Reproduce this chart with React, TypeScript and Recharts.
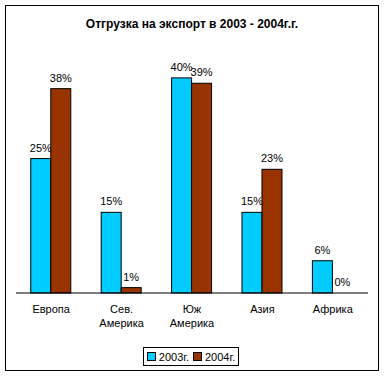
import React from "react";
import { BarChart, Bar, XAxis, YAxis, Legend, Customized } from "recharts";

const categories = ["Европа", "Сев. Америка", "Юж Америка", "Азия", "Африка"];
const values2003 = [25, 15, 40, 15, 6];
const values2004 = [38, 1, 39, 23, 0];
const seriesNames = ["2003г.", "2004г."];
const colors = ["#00CCFF", "#993300"];

const data = categories.map((c, i) => ({ name: c, a: values2003[i], b: values2004[i] }));
const FONT = "'Liberation Sans', Arial, sans-serif";

const CatTick = (props: any) => {
  const { x, y, payload } = props;
  const words = String(payload.value).split(" ");
  return (
    <text x={x} y={y} textAnchor="middle" fontFamily={FONT} fontSize={11} fill="#000">
      {words.map((w, i) => (
        <tspan key={i} x={x} dy={i === 0 ? 12 : 14}>{w}</tspan>
      ))}
    </text>
  );
};

const makeShape = (key: string, color: string) => (props: any) => {
  const { x, y, width, height, payload } = props;
  const v = payload[key];
  const X = Number(x), Y = Number(y), W = Number(width), H = Number(height);
  return (
    <g>
      {H > 0 && <rect x={X} y={Y} width={W} height={H} fill={color} stroke="#000" strokeWidth={1} />}
      <text x={X + W / 2} y={Y - 7} textAnchor="middle" fontFamily={FONT} fontSize={11} fill="#000">
        {v + "%"}
      </text>
    </g>
  );
};

const LegendBox = () => (
  <div style={{ border: "1px solid #000", height: 19, display: "flex", alignItems: "center", justifyContent: "center", fontFamily: FONT, fontSize: 11, background: "#fff", boxSizing: "border-box" }}>
    {seriesNames.map((n, i) => (
      <span key={n} style={{ display: "inline-flex", alignItems: "center", marginRight: i === 0 ? 4 : 0 }}>
        <span style={{ width: 7, height: 7, background: colors[i], border: "1px solid #000", display: "inline-block", marginRight: 3 }} />
        {n}
      </span>
    ))}
  </div>
);

export default function App() {
  return (
    <div style={{ position: "absolute", left: 0, top: 0, width: 384, height: 377, background: "#fff" }}>
      <div style={{ position: "absolute", left: 5, top: 5, width: 372, height: 364, border: "1px solid #000" }} />
      <div style={{ position: "absolute", left: 0, top: 0 }}>
        <BarChart width={384} height={377} data={data} margin={{ top: 51, right: 16, bottom: 44, left: 16 }} barCategoryGap="21%" barGap={0}>
          <XAxis xAxisId="t" type="number" domain={[0, 5]} ticks={[0, 1, 2, 3, 4, 5]} tick={() => <g />} tickSize={4} tickLine={{ stroke: "#000" }} axisLine={false} height={0} />
          <XAxis xAxisId="c" dataKey="name" tick={<CatTick />} tickLine={false} axisLine={{ stroke: "#000" }} height={40} interval={0} />
          <YAxis hide domain={[0, 45]} />
          <Legend layout="horizontal" verticalAlign="middle" align="center" content={<LegendBox />} wrapperStyle={{ left: 143, top: 347, width: 96, height: 21 }} />
          <Bar xAxisId="c" dataKey="a" name={seriesNames[0]} fill={colors[0]} isAnimationActive={false} shape={makeShape("a", colors[0])} />
          <Bar xAxisId="c" dataKey="b" name={seriesNames[1]} fill={colors[1]} isAnimationActive={false} shape={makeShape("b", colors[1])} />
          <Customized component={() => (
            <text x={192} y={28} textAnchor="middle" fontFamily={FONT} fontSize={12} fontWeight="bold" fill="#000">
              Отгрузка на экспорт в 2003 - 2004г.г.
            </text>
          )} />
        </BarChart>
      </div>
    </div>
  );
}
